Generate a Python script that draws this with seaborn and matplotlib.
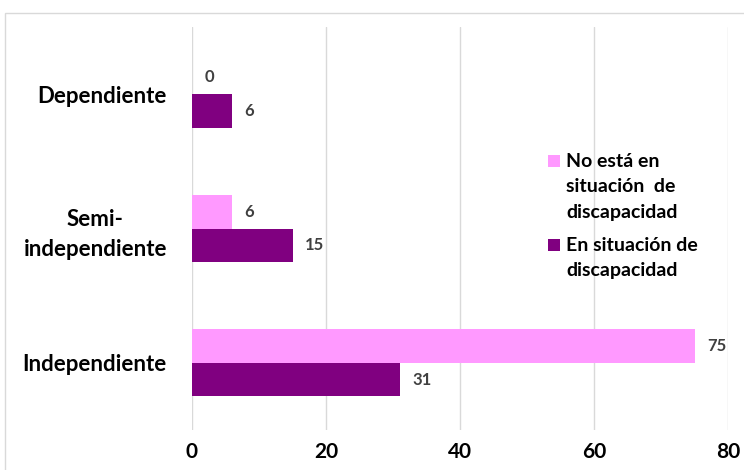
import matplotlib
matplotlib.use('Agg')
import matplotlib.pyplot as plt
import seaborn as sns
import pandas as pd
from matplotlib.patches import Rectangle

# datos
categorias = ['Dependiente', 'Semi-\nindependiente', 'Independiente']
series = ['No está en\nsituación  de\ndiscapacidad', 'En situación de\ndiscapacidad']
no_discapacidad = [0, 6, 75]
con_discapacidad = [6, 15, 31]
colores = ['#FF99FF', '#800080']

df = pd.DataFrame({
    'categoria': categorias * 2,
    'serie': [series[0]] * 3 + [series[1]] * 3,
    'valor': no_discapacidad + con_discapacidad,
})

sns.set_style('white')
plt.rcParams['font.family'] = ['Lato', 'DejaVu Sans']

W, H = 744, 470
fig = plt.figure(figsize=(W / 100, H / 100), dpi=100)
ax = fig.add_axes([192 / W, 1 - 430 / H, 536 / W, 403 / H])

# marco del gráfico
fig.patches.append(Rectangle((5 / W, -0.05), 1.0, 1 - 13 / H + 0.05,
                             transform=fig.transFigure, fill=False,
                             edgecolor='#d9d9d9', linewidth=1))

sns.barplot(data=df, y='categoria', x='valor', hue='serie', orient='h',
            palette=colores, width=0.5, gap=0, ax=ax, legend=False,
            saturation=1, edgecolor='none')

for cont in ax.containers:
    ax.bar_label(cont, padding=9, fontsize=12, fontweight='bold', color='#404040')

ax.set_xlim(0, 80)
ax.set_xticks([0, 20, 40, 60, 80])
ax.set_xlabel('')
ax.set_ylabel('')
ax.grid(axis='x', color='#d9d9d9', linewidth=1)
ax.set_axisbelow(True)
for s in ax.spines.values():
    s.set_visible(False)
ax.tick_params(axis='x', length=0, pad=9, labelsize=15, labelcolor='black')
ax.tick_params(axis='y', length=0, pad=18, labelsize=16, labelcolor='black')
for lab in ax.get_xticklabels() + ax.get_yticklabels():
    lab.set_fontweight('bold')
for lab in ax.get_yticklabels():
    lab.set_multialignment('center')
    lab.set_linespacing(1.5)

# leyenda (cuadro a la altura de la primera línea, como en el original)
leg_y = [153, 237]
for txt, c, y in zip(series, colores, leg_y):
    fig.patches.append(Rectangle((548 / W, 1 - (y + 14) / H), 12 / W, 12 / H,
                                 transform=fig.transFigure, facecolor=c,
                                 edgecolor='none'))
    fig.text(566 / W, 1 - y / H, txt, ha='left', va='top', fontsize=14,
             fontweight='bold', color='black', linespacing=1.6)

fig.savefig('out.png', dpi=100)
